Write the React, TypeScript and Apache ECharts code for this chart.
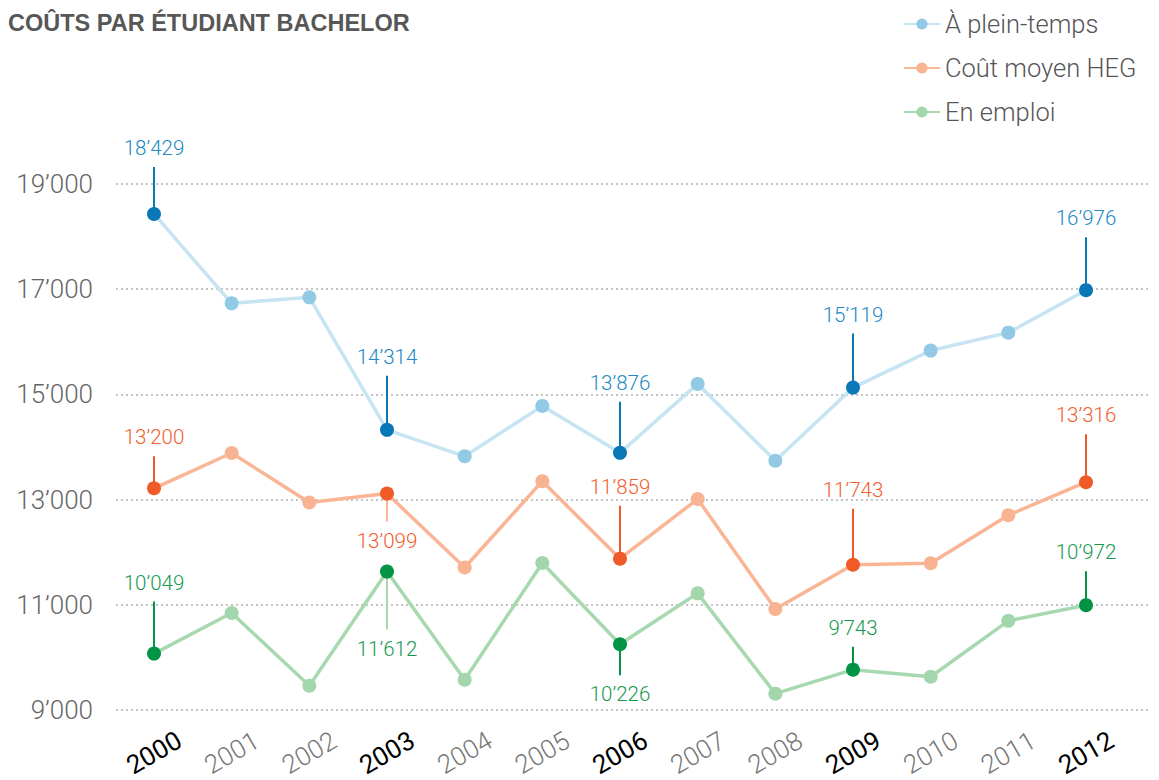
import React, { useEffect, useRef } from "react";
import * as echarts from "echarts";

const TITLE = "COÛTS PAR ÉTUDIANT BACHELOR";
const YEARS = ["2000", "2001", "2002", "2003", "2004", "2005", "2006", "2007", "2008", "2009", "2010", "2011", "2012"];
const SERIES_NAMES = ["À plein-temps", "Coût moyen HEG", "En emploi"];
const FULL_TIME = [18429, 16725, 16840, 14314, 13810, 14770, 13876, 15190, 13726, 15119, 15825, 16167, 16976];
const AVERAGE = [13200, 13873, 12930, 13099, 11690, 13335, 11859, 12995, 10900, 11743, 11770, 12688, 13316];
const EMPLOYED = [10049, 10823, 9435, 11612, 9551, 11776, 10226, 11198, 9285, 9743, 9608, 10673, 10972];
const Y_MIN = 9000;
const Y_MAX = 19000;
const Y_STEP = 2000;

// highlighted (annotated) years per series: [year, leader length in px (neg = up), light leader]
const FULL_TIME_NOTES: [string, number, boolean][] = [
  ["2000", -47, false], ["2003", -54, false], ["2006", -51, false], ["2009", -54, false], ["2012", -53, false],
];
const AVERAGE_NOTES: [string, number, boolean][] = [
  ["2000", -32, false], ["2003", 28, true], ["2006", -53, false], ["2009", -56, false], ["2012", -48, false],
];
const EMPLOYED_NOTES: [string, number, boolean][] = [
  ["2000", -52, false], ["2003", 58, true], ["2006", 31, false], ["2009", -23, false], ["2012", -34, false],
];
const HIGHLIGHT_YEARS = ["2000", "2003", "2006", "2009", "2012"];

const COLORS = [
  { line: "#c6e4f1", point: "#92cae6", dark: "#0a77b6", text: "#2189c4" },
  { line: "#f9b594", point: "#f8b393", dark: "#f05a28", text: "#f0602f" },
  { line: "#a8d8b0", point: "#a3d6ad", dark: "#009444", text: "#16994f" },
];

const FONT = "Roboto, 'Helvetica Neue', Helvetica, Arial, sans-serif";

const fmt = (v: number) => String(Math.round(v)).replace(/\B(?=(\d{3})+(?!\d))/g, "\u2019");

export default function App() {
  const ref = useRef<HTMLDivElement>(null);
  useEffect(() => {
    if (!ref.current) return;
    const chart = echarts.init(ref.current, undefined, { renderer: "svg" });
    const allValues = [FULL_TIME, AVERAGE, EMPLOYED];
    const allNotes = [FULL_TIME_NOTES, AVERAGE_NOTES, EMPLOYED_NOTES];

    const lineSeries = allValues.map((vals, s) => {
      const highlighted = allNotes[s].map((n) => n[0]);
      return {
        type: "line",
        name: SERIES_NAMES[s],
        xAxisIndex: 1,
        yAxisIndex: 1,
        z: 5,
        symbol: "circle",
        symbolSize: 14,
        lineStyle: { color: COLORS[s].line, width: 3.5 },
        itemStyle: { color: COLORS[s].point },
        emphasis: { disabled: true },
        data: vals.map((v, i) =>
          highlighted.includes(YEARS[i])
            ? { value: v, itemStyle: { color: COLORS[s].dark } }
            : { value: v }
        ),
      };
    });

    const noteSeries = allValues.map((vals, s) => ({
      type: "custom",
      xAxisIndex: 1,
      yAxisIndex: 1,
      z: 4,
      silent: true,
      data: allNotes[s].map(([year, len, light]) => {
        const i = YEARS.indexOf(year);
        return [i, vals[i], len, light ? 1 : 0];
      }),
      renderItem: (params: any, api: any) => {
        const p = api.coord([api.value(0), api.value(1)]);
        const len = api.value(2);
        const light = api.value(3) === 1;
        const ty = p[1] + len + (len < 0 ? -19 : 19);
        return {
          type: "group",
          children: [
            {
              type: "line",
              shape: { x1: p[0], y1: p[1], x2: p[0], y2: p[1] + len },
              style: { stroke: light ? COLORS[s].line : COLORS[s].dark, lineWidth: 2 },
            },
            {
              type: "text",
              x: p[0],
              y: ty,
              style: {
                text: fmt(api.value(1)),
                fill: COLORS[s].text,
                font: `300 20.5px ${FONT}`,
                align: "center",
                verticalAlign: "middle",
              },
            },
          ],
        };
      },
    }));

    chart.setOption({
      animation: false,
      title: {
        text: TITLE,
        left: 3,
        top: 6,
        textStyle: { fontFamily: "'Liberation Sans', Arial, sans-serif", fontWeight: "bold", fontSize: 23.5, color: "#575757" },
      },
      legend: {
        orient: "vertical",
        left: 898,
        top: 6,
        itemWidth: 36,
        itemHeight: 14,
        itemGap: 18,
        selectedMode: false,
        data: SERIES_NAMES,
        textStyle: { fontFamily: FONT, fontWeight: 300, fontSize: 25.5, color: "#555" },
      },
      grid: [
        { left: 116, right: 10, top: 184, bottom: 70 },
        { left: 154, right: 73, top: 184, bottom: 70 },
      ],
      xAxis: [
        { type: "value", gridIndex: 0, show: false, min: 0, max: 1 },
        {
          type: "category",
          gridIndex: 1,
          data: YEARS,
          boundaryGap: false,
          axisLine: { show: false },
          axisTick: { show: false },
          axisLabel: {
            rotate: 30,
            margin: 44,
            align: "center",
            verticalAlign: "middle",
            fontFamily: FONT,
            fontSize: 26,
            formatter: (v: string) => (HIGHLIGHT_YEARS.includes(v) ? `{h|${v}}` : `{n|${v}}`),
            rich: {
              h: { color: "#000", fontWeight: 400, fontSize: 26, fontFamily: FONT },
              n: { color: "#777", fontWeight: 300, fontSize: 26, fontFamily: FONT },
            },
          },
        },
      ],
      yAxis: [
        {
          type: "value",
          gridIndex: 0,
          min: Y_MIN,
          max: Y_MAX,
          interval: Y_STEP,
          axisLine: { show: false },
          axisTick: { show: false },
          splitLine: { lineStyle: { color: "#c4c4c4", width: 2, type: [2, 3] } },
          axisLabel: {
            margin: 23,
            fontFamily: FONT,
            fontWeight: 300,
            fontSize: 26,
            color: "#666",
            formatter: (v: number) => fmt(v),
          },
        },
        { type: "value", gridIndex: 1, min: Y_MIN, max: Y_MAX, show: false, splitLine: { show: false } },
      ],
      series: [...noteSeries, ...lineSeries],
    });
    return () => chart.dispose();
  }, []);
  return <div ref={ref} style={{ width: 1159, height: 780, position: "absolute", left: 0, top: 0 }} />;
}
